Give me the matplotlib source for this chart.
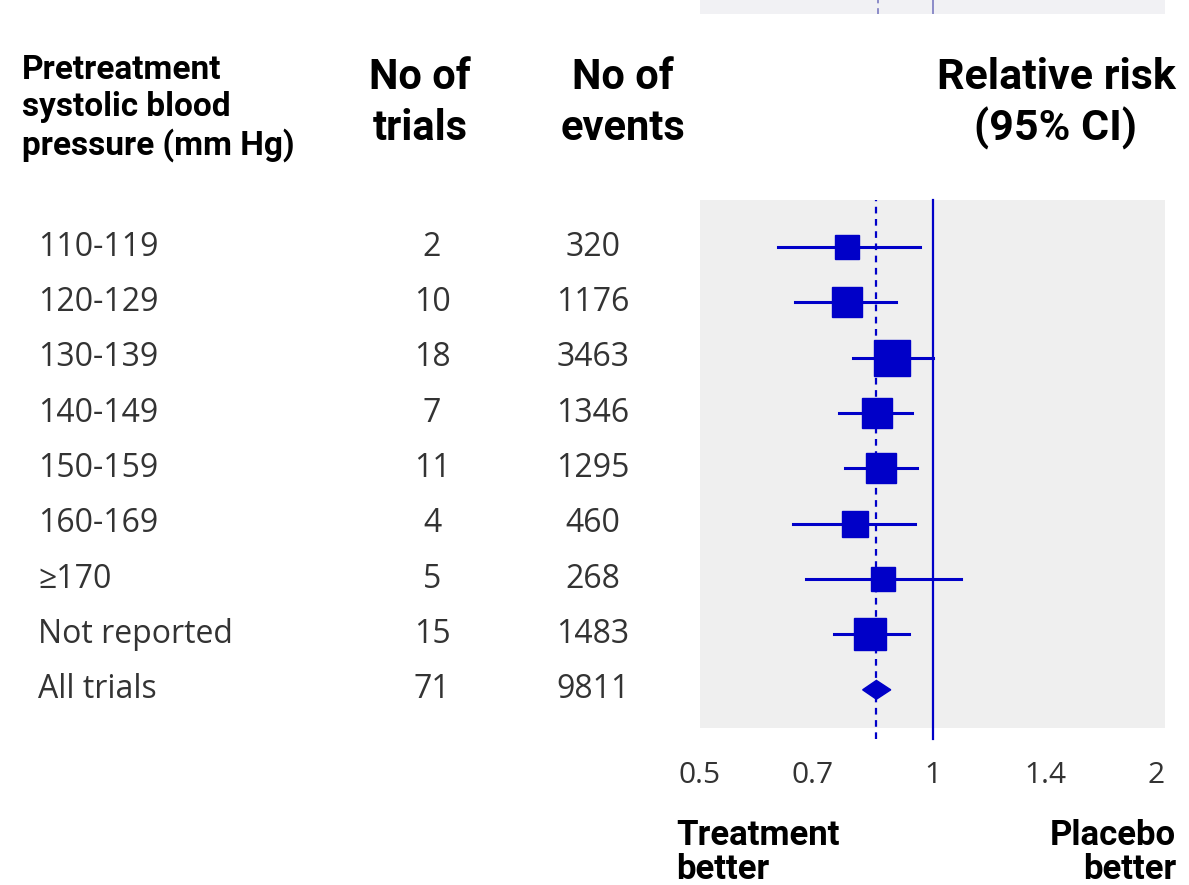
import numpy as np
import matplotlib
matplotlib.use("Agg")
import matplotlib.pyplot as plt
from matplotlib import transforms
from matplotlib.font_manager import fontManager

# --- data ---
groups = ["110-119", "120-129", "130-139", "140-149", "150-159",
          "160-169", "\u2265170", "Not reported", "All trials"]
n_trials = [2, 10, 18, 7, 11, 4, 5, 15, 71]
n_events = [320, 1176, 3463, 1346, 1295, 460, 268, 1483, 9811]
rr = [0.776, 0.774, 0.885, 0.847, 0.857, 0.793, 0.862, 0.831]
ci_low = [0.631, 0.663, 0.788, 0.756, 0.770, 0.659, 0.685, 0.745]
ci_high = [0.962, 0.898, 1.000, 0.942, 0.956, 0.948, 1.090, 0.931]
pooled_rr = 0.846
pooled_low = 0.812
pooled_high = 0.883
tick_vals = [0.5, 0.7, 1, 1.4, 2]
tick_labels = ["0.5", "0.7", "1", "1.4", "2"]

BLUE = "#0000c8"
PANEL = "#efefef"

names = {f.name for f in fontManager.ttflist}
head = "Roboto" if "Roboto" in names else "DejaVu Sans"
body = "Open Sans" if "Open Sans" in names else "DejaVu Sans"

W, H = 1189, 885
fig = plt.figure(figsize=(W / 100, H / 100), dpi=100)


def fx(px):
    return px / W


def fy(py):
    return 1 - py / H


# main forest panel
left, right, top, bottom = 700, 1165, 200, 728
ax = fig.add_axes([fx(left), fy(bottom), fx(right - left), (bottom - top) / H])
ax.set_facecolor(PANEL)
ax.set_xscale("log")
ax.set_xlim(0.5, 2)
nrows = len(groups)
ax.set_ylim(nrows - 1 + 0.69, -0.85)
for s in ax.spines.values():
    s.set_visible(False)
ax.set_yticks([])
ax.set_xticks(tick_vals)
ax.set_xticklabels(tick_labels)
ax.xaxis.set_minor_locator(plt.NullLocator())
ax.tick_params(axis="x", length=0, pad=24, labelsize=21.5, labelcolor="#333333")
for lab in ax.get_xticklabels():
    lab.set_fontfamily(body)
ax.get_xticklabels()[-1].set_horizontalalignment("right")

# reference lines
ax.axvline(1, color=BLUE, lw=1.6, ymin=-0.02, clip_on=False)
ax.axvline(pooled_rr, color=BLUE, lw=1.6, ls=(0, (3, 2.5)), ymin=-0.02, clip_on=False)

# squares sized by events
ev = np.array(n_events[:-1], dtype=float)
sizes_px = 23.5 * (ev / ev.min()) ** 0.164
for i in range(len(rr)):
    ax.plot([ci_low[i], ci_high[i]], [i, i], color=BLUE, lw=2.2, zorder=3)
    ax.plot(rr[i], i, marker="s", ms=sizes_px[i] * 0.72, color=BLUE,
            mec=BLUE, zorder=4)

# pooled diamond
yd = nrows - 1
dh = 0.17
ax.fill([pooled_low, pooled_rr, pooled_high, pooled_rr],
        [yd, yd - dh, yd, yd + dh], color=BLUE, zorder=4)

# faint strip at very top (cropped remnant of previous panel)
ax_top = fig.add_axes([fx(left), fy(14), fx(right - left), 14 / H])
ax_top.set_xscale("log")
ax_top.set_xlim(0.5, 2)
ax_top.axis("off")
ax_top.add_patch(plt.Rectangle((0, 0), 1, 1, transform=ax_top.transAxes,
                               color="#f1f1f4", zorder=0))
ax_top.axvline(1, color="#8c8cc8", lw=1.4)
ax_top.axvline(0.85, color="#8c8cc8", lw=1.4, ls=(0, (3, 2.5)))

# table text aligned to rows
tr = transforms.blended_transform_factory(fig.transFigure, ax.transData)
for i, g in enumerate(groups):
    fig.text(fx(38), i, g, transform=tr, ha="left", va="center",
             fontsize=23, family=body, color="#333333")
    fig.text(fx(432), i, str(n_trials[i]), transform=tr, ha="center",
             va="center", fontsize=23, family=body, color="#333333")
    fig.text(fx(593), i, str(n_events[i]), transform=tr, ha="center",
             va="center", fontsize=23, family=body, color="#333333")

# headers
fig.text(fx(22), fy(54), "Pretreatment\nsystolic blood\npressure (mm Hg)",
         ha="left", va="top", fontsize=24, weight="bold", family=head,
         linespacing=1.2)
fig.text(fx(420), fy(57), "No of\ntrials", ha="center", va="top",
         fontsize=30, weight="bold", family=head, linespacing=1.3)
fig.text(fx(623), fy(57), "No of\nevents", ha="center", va="top",
         fontsize=30, weight="bold", family=head, linespacing=1.3)
fig.text(fx(1056), fy(57), "Relative risk\n(95% CI)", ha="center", va="top",
         fontsize=31, weight="bold", family=head, linespacing=1.25)

# axis end labels
fig.text(fx(676), fy(819), "Treatment\nbetter", ha="left", va="top",
         fontsize=25, weight="bold", family=head, linespacing=1.05)
fig.text(fx(1176), fy(819), "Placebo\nbetter", ha="right", va="top",
         fontsize=25, weight="bold", family=head, linespacing=1.05,
         multialignment="right")

fig.savefig("out.png", dpi=100, facecolor="white")
